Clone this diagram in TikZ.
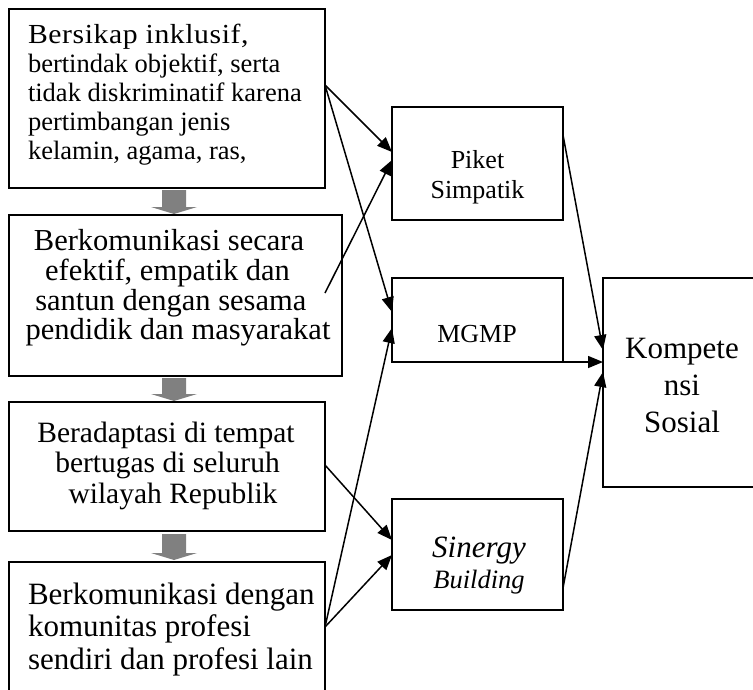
\documentclass[tikz,border=0pt]{standalone}
\usepackage{fontspec}
\setmainfont{Liberation Serif}
\usetikzlibrary{arrows.meta}
\begin{document}
\begin{tikzpicture}[x=1pt,y=-1pt,
  box/.style={draw, line width=1.6pt, inner sep=0pt, outer sep=0pt},
  conn/.style={line width=1.5pt, -{Triangle[length=15pt,width=12pt]}},
  txt/.style={inner sep=0pt, outer sep=0pt},
  fa/.style={font=\fontsize{26.5pt}{29pt}\selectfont},
  fb/.style={font=\fontsize{30.5pt}{30pt}\selectfont},
  fc/.style={font=\fontsize{29.5pt}{30pt}\selectfont},
  fd/.style={font=\fontsize{31pt}{32pt}\selectfont},
  fe/.style={font=\fontsize{26pt}{30pt}\selectfont},
  fk/.style={font=\fontsize{31pt}{37pt}\selectfont},
  blk/.style={fill=black!50}]
\useasboundingbox (0,0) rectangle (753,689);
\clip (0,0) rectangle (753,689);

% boxes
\node[box, minimum width=316pt, minimum height=179pt] (b1) at (167,98.5) {};
\node[box, minimum width=333pt, minimum height=161pt] (b2) at (175.5,295.5) {};
\node[box, minimum width=316pt, minimum height=129pt] (b3) at (167,466.5) {};
\node[box, minimum width=316pt, minimum height=160pt] (b4) at (167,642) {};
\node[box, minimum width=171pt, minimum height=113pt] (p) at (477.5,163.5) {};
\node[box, minimum width=171pt, minimum height=84pt] (m) at (477.5,320) {};
\node[box, minimum width=157pt, minimum height=209pt] (k) at (681.5,382.5) {};
\node[box, minimum width=171pt, minimum height=111pt] (s) at (477.5,554.5) {};

% box 1 text
\node[txt, fa, anchor=base west] (t11) at (28,43) {\scalebox{1.12}[1.04]{\addfontfeature{LetterSpace=2}Bersikap inklusif,}};
\node[txt, fa, anchor=base west] (t12) at (28,72) {bertindak objektif, serta};
\node[txt, fa, anchor=base west] (t13) at (28,101) {tidak diskriminatif karena};
\node[txt, fa, anchor=base west] (t14) at (28,130) {pertimbangan jenis};
\node[txt, fa, anchor=base west] (t15) at (28,159) {kelamin, agama, ras,};

% box 2 text
\node[txt, fb, anchor=base] (t21) at (169,250.5) {Berkomunikasi secara};
\node[txt, fb, anchor=base] (t22) at (167.5,280) {efektif, empatik dan};
\node[txt, fb, anchor=base] (t23) at (170.8,310) {santun dengan sesama};
\node[txt, fb, anchor=base] (t24) at (178,339) {pendidik dan masyarakat};

% box 3 text
\node[txt, fc, anchor=base] (t31) at (166,442) {Beradaptasi di tempat};
\node[txt, fc, anchor=base] (t32) at (167.5,472) {bertugas di seluruh};
\node[txt, fc, anchor=base] (t33) at (173,503) {wilayah Republik};

% box 4 text
\node[txt, fd, anchor=base west] (t41) at (28,604) {Berkomunikasi dengan};
\node[txt, fd, anchor=base west] (t42) at (28,636) {komunitas profesi};
\node[txt, fd, anchor=base west] (t43) at (28,669) {sendiri dan profesi lain};

% right column texts
\node[txt, fe, anchor=base] (tp1) at (477.5,168) {Piket};
\node[txt, fe, anchor=base] (tp2) at (477.5,198) {Simpatik};
\node[txt, fe, anchor=base] (tm) at (477,342) {MGMP};
\node[txt, font=\fontsize{31pt}{32pt}\selectfont\itshape, anchor=base] (ts1) at (479,557) {Sinergy};
\node[txt, font=\fontsize{26.5pt}{30pt}\selectfont\itshape, anchor=base] (ts2) at (479,588) {Building};
\node[txt, fk, anchor=base] (tk1) at (682,358) {Kompete};
\node[txt, fk, anchor=base] (tk2) at (682,395) {nsi};
\node[txt, fk, anchor=base] (tk3) at (682,432) {Sosial};

% grey block arrows
\fill[blk] (162,190) -- (186,190) -- (186,207) -- (197,207) -- (174,214) -- (151,207) -- (162,207) -- cycle;
\fill[blk] (162,378) -- (186,378) -- (186,394) -- (197,394) -- (174,401) -- (151,394) -- (162,394) -- cycle;
\fill[blk] (162,534) -- (186,534) -- (186,553) -- (197,553) -- (174,560) -- (151,553) -- (162,553) -- cycle;

% connectors
\draw[conn] ([yshift=13.5pt]b1.east) -- ([yshift=11.5pt]p.west);
\draw[conn] ([yshift=13.5pt]b1.east) -- ([yshift=8pt]m.west);
\draw[conn] ([xshift=-17pt,yshift=2.5pt]b2.east) -- ([yshift=3.5pt]p.west);
\draw[conn] ([yshift=1.5pt]b3.east) -- ([yshift=14.5pt]s.west);
\draw[conn] ([yshift=15pt]b4.east) -- ([yshift=-8pt]m.west);
\draw[conn] ([yshift=15pt]b4.east) -- ([yshift=-0.5pt]s.west);
\draw[conn] ([yshift=28.5pt]p.east) -- ([yshift=32.5pt]k.west);
\draw[conn] (m.south east) -- ([yshift=20.5pt]k.west);
\draw[conn] ([yshift=-33.5pt]s.east) -- ([yshift=10.5pt]k.west);
\end{tikzpicture}
\end{document}
